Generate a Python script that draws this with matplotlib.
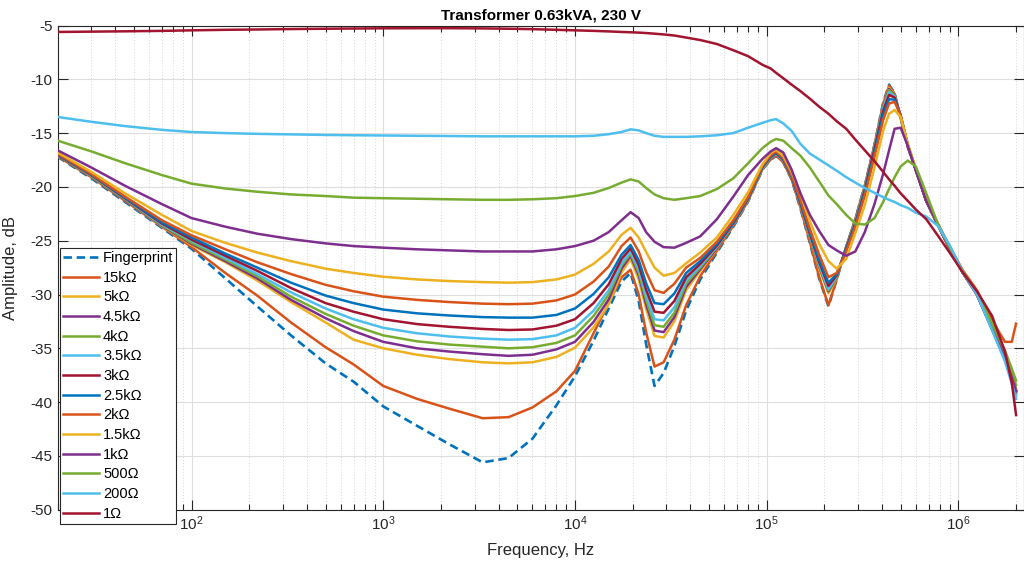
import matplotlib
matplotlib.use("Agg")
import matplotlib.pyplot as plt

plt.rcParams['font.family'] = ['Liberation Sans', 'DejaVu Sans']
plt.rcParams['axes.unicode_minus'] = False
plt.rcParams['mathtext.default'] = 'regular'

# ---------------- data (frequency grid in Hz, amplitudes in dB) ----------------
freq = [20, 30, 45, 70, 100, 150, 220, 330, 500, 700, 1000, 1500, 2200, 3300, 4500, 6000, 8000,
        10000, 12500, 15000, 17500, 19500, 21500, 23500, 26000, 29000, 33000,
        38000, 45000, 55000, 67000, 80000, 95000,
        105000, 112000, 122000, 135000,
        150000, 168000, 188000, 210000,
        232000, 260000, 290000, 325000, 365000, 405000,
        435000, 465000, 500000, 545000,
        600000, 680000, 780000, 900000, 1050000, 1250000, 1500000, 1750000, 1900000, 2000000]

fingerprint = [-17.2, -19.2, -21.4, -23.8, -25.75, -28.5, -31.1, -33.8, -36.4, -38.1, -40.4, -42.2, -43.9, -45.6, -45.2, -43.4, -40.3,
               -37.6, -34.3, -31.3, -28.8, -28.0, -30.6, -34.6, -38.5, -37.3, -34.8,
               -31.5, -28.6, -26.1, -23.7, -21.35, -18.4,
               -17.45, -17.1, -17.7, -19.3,
               -22.0, -25.2, -28.5, -31.1,
               -28.6, -25.6, -23.0, -19.9, -16.1, -12.2,
               -10.5, -11.3, -13.6, -16.3,
               -18.4, -21.3, -23.5, -25.7, -27.9, -30.0, -33.2, -35.9, -37.6, -38.9]
r15k = [-17.15, -19.1, -21.3, -23.7, -25.6, -28.0, -30.1, -32.6, -34.9, -36.5, -38.5, -39.7, -40.6, -41.5, -41.4, -40.5, -39.0,
        -37.1, -33.6, -30.8, -28.4, -27.7, -30.0, -33.5, -36.7, -36.3, -34.2,
        -31.0, -28.3, -25.95, -23.6, -21.3, -18.35,
        -17.45, -17.1, -17.7, -19.3,
        -21.9, -25.1, -28.4, -31.0,
        -28.6, -25.6, -23.0, -19.9, -16.1, -12.3,
        -10.6, -11.35, -13.6, -16.3,
        -18.4, -21.3, -23.4, -25.5, -27.7, -29.6, -32.4, -34.4, -34.4, -32.7]
r5k = [-17.1, -19.0, -21.2, -23.65, -25.4, -27.0, -28.7, -30.7, -32.6, -34.2, -35.0, -35.6, -36.0, -36.3, -36.4, -36.3, -35.8,
       -34.95, -33.05, -30.9, -27.95, -26.7, -28.6, -31.35, -33.85, -34.0, -32.5,
       -29.6, -27.8, -25.75, -23.5, -21.25, -18.3,
       -17.35, -17.0, -17.6, -19.2,
       -21.7, -24.7, -27.6, -29.9,
       -28.5, -25.6, -23.1, -20.0, -16.2, -12.45,
       -10.8, -11.45, -13.55, -16.2,
       -18.4, -21.3, -23.5, -25.7, -27.9, -30.0, -33.2, -35.9, -37.7, -39.0]
r4k5 = [-17.1, -19.0, -21.2, -23.6, -25.3, -26.9, -28.5, -30.5, -32.2, -33.4, -34.4, -35.0, -35.3, -35.55, -35.7, -35.6, -35.1,
        -34.4, -32.55, -30.45, -27.6, -26.4, -28.2, -30.9, -33.35, -33.5, -32.1,
        -29.3, -27.65, -25.7, -23.5, -21.2, -18.25,
        -17.35, -17.0, -17.6, -19.2,
        -21.65, -24.6, -27.4, -29.7,
        -28.4, -25.6, -23.1, -20.05, -16.25, -12.5,
        -10.9, -11.5, -13.5, -16.2,
        -18.4, -21.3, -23.5, -25.7, -27.9, -30.0, -33.2, -35.9, -37.7, -39.2]
r4k = [-17.05, -19.0, -21.15, -23.55, -25.2, -26.75, -28.3, -30.2, -31.8, -32.9, -33.8, -34.35, -34.65, -34.85, -35.0, -34.9, -34.5,
       -33.8, -32.0, -30.0, -27.3, -26.2, -27.95, -30.5, -32.85, -33.0, -31.7,
       -29.0, -27.5, -25.6, -23.45, -21.2, -18.25,
       -17.3, -16.95, -17.55, -19.15,
       -21.6, -24.55, -27.3, -29.6,
       -28.35, -25.6, -23.2, -20.1, -16.3, -12.6,
       -11.0, -11.55, -13.5, -16.2,
       -18.4, -21.2, -23.4, -25.6, -27.8, -29.9, -33.0, -35.6, -37.3, -38.4]
r3k5 = [-17.0, -18.95, -21.1, -23.5, -25.0, -26.6, -28.1, -29.8, -31.3, -32.3, -33.1, -33.6, -33.9, -34.1, -34.2, -34.15, -33.8,
        -33.1, -31.5, -29.6, -27.1, -26.0, -27.65, -30.1, -32.3, -32.4, -31.2,
        -28.7, -27.35, -25.55, -23.4, -21.15, -18.2,
        -17.25, -16.9, -17.5, -19.1,
        -21.55, -24.45, -27.2, -29.5,
        -28.3, -25.65, -23.3, -20.2, -16.4, -12.75,
        -11.2, -11.6, -13.45, -16.2,
        -18.4, -21.3, -23.5, -25.7, -27.9, -30.0, -33.3, -36.1, -38.0, -39.4]
r3k = [-17.0, -18.9, -21.05, -23.4, -24.9, -26.4, -27.8, -29.4, -30.8, -31.6, -32.3, -32.75, -33.0, -33.2, -33.3, -33.25, -32.9,
       -32.3, -30.8, -29.05, -26.7, -25.7, -27.25, -29.55, -31.6, -31.7, -30.6,
       -28.4, -27.15, -25.45, -23.35, -21.1, -18.15,
       -17.2, -16.85, -17.45, -19.05,
       -21.5, -24.35, -27.0, -29.2,
       -28.2, -25.7, -23.4, -20.3, -16.5, -12.95,
       -11.45, -11.7, -13.4, -16.2,
       -18.4, -21.3, -23.5, -25.7, -27.9, -30.0, -33.2, -35.9, -37.7, -39.0]
r2k5 = [-16.95, -18.85, -21.0, -23.3, -24.7, -26.2, -27.5, -28.9, -30.1, -30.8, -31.4, -31.75, -31.95, -32.1, -32.15, -32.15, -31.9,
        -31.3, -29.95, -28.4, -26.3, -25.4, -26.8, -28.95, -30.8, -30.9, -29.9,
        -28.0, -26.9, -25.3, -23.25, -21.05, -18.1,
        -17.15, -16.8, -17.4, -19.0,
        -21.4, -24.2, -26.8, -28.9,
        -28.1, -25.8, -23.5, -20.5, -16.8, -13.3,
        -11.85, -11.9, -13.4, -16.1,
        -18.4, -21.3, -23.5, -25.7, -27.9, -30.0, -33.2, -35.9, -37.6, -38.9]
r2k = [-16.9, -18.8, -20.9, -23.1, -24.5, -25.8, -27.0, -28.1, -29.1, -29.7, -30.2, -30.5, -30.7, -30.85, -30.9, -30.85, -30.55,
       -30.0, -28.8, -27.4, -25.5, -24.7, -26.0, -27.9, -29.6, -29.85, -29.0,
       -27.5, -26.6, -25.1, -23.1, -20.95, -18.0,
       -17.05, -16.7, -17.3, -18.9,
       -21.2, -23.9, -26.3, -28.4,
       -28.0, -26.0, -23.7, -20.8, -17.2, -13.8,
       -12.25, -12.1, -13.35, -16.1,
       -18.4, -21.3, -23.5, -25.7, -27.9, -30.0, -33.2, -35.9, -37.6, -38.9]
r1k5 = [-16.8, -18.6, -20.6, -22.6, -24.1, -25.2, -26.1, -26.9, -27.6, -28.0, -28.35, -28.6, -28.75, -28.85, -28.9, -28.85, -28.6,
        -28.15, -27.15, -26.0, -24.45, -23.8, -24.7, -26.05, -27.5, -28.25, -28.0,
        -27.1, -26.1, -24.7, -22.6, -20.5, -17.9,
        -16.85, -16.55, -17.1, -18.6,
        -20.6, -23.2, -25.3, -26.9,
        -27.6, -26.7, -24.3, -21.7, -18.2, -14.8,
        -13.2, -12.85, -13.5, -16.0,
        -18.3, -21.2, -23.5, -25.7, -27.9, -30.0, -33.2, -35.9, -37.7, -39.0]
r1k = [-16.6, -18.2, -19.9, -21.6, -22.9, -23.7, -24.35, -24.85, -25.25, -25.5, -25.65, -25.8, -25.9, -26.0, -26.0, -26.0, -25.8,
       -25.5, -25.0, -24.2, -23.1, -22.35, -22.9, -24.2, -25.1, -25.6, -25.65,
       -25.2, -24.6, -23.0, -20.9, -18.9, -17.4,
       -16.7, -16.4, -16.8, -18.4,
       -20.6, -22.6, -24.1, -25.4,
       -25.9, -26.4, -26.0, -24.2, -21.6, -18.8,
       -16.6, -14.6, -14.5, -16.2,
       -18.5, -21.3, -23.5, -25.7, -27.9, -30.0, -33.2, -35.9, -37.7, -39.0]
r500 = [-15.7, -16.7, -17.8, -18.9, -19.7, -20.15, -20.45, -20.7, -20.85, -21.0, -21.05, -21.1, -21.15, -21.2, -21.2, -21.15, -21.05,
        -20.85, -20.55, -20.1, -19.6, -19.3, -19.5, -20.1, -20.7, -21.05, -21.2,
        -21.05, -20.85, -20.2, -19.2, -17.8, -16.4,
        -15.8, -15.55, -15.7, -16.4,
        -17.1, -18.2, -19.5, -20.8,
        -21.6, -22.6, -23.4, -23.5, -22.9, -21.4,
        -20.2, -19.1, -18.1, -17.55,
        -18.1, -20.6, -23.4, -25.6, -27.8, -29.8, -32.7, -35.2, -36.9, -38.0]
r200 = [-13.5, -13.95, -14.35, -14.7, -14.9, -15.0, -15.07, -15.12, -15.17, -15.2, -15.22, -15.25, -15.27, -15.3, -15.3, -15.3, -15.3,
        -15.3, -15.25, -15.1, -14.9, -14.65, -14.75, -15.0, -15.25, -15.35, -15.35,
        -15.35, -15.3, -15.2, -15.0, -14.5, -14.05,
        -13.8, -13.7, -14.1, -14.8,
        -16.0, -16.9, -17.45, -18.0,
        -18.5, -19.1, -19.6, -20.1, -20.55, -20.95,
        -21.2, -21.4, -21.7, -21.95,
        -22.4, -22.75, -23.6, -25.4, -27.9, -30.0, -33.3, -36.2, -38.3, -39.7]
r1 = [-5.6, -5.57, -5.54, -5.5, -5.45, -5.4, -5.37, -5.33, -5.3, -5.28, -5.26, -5.25, -5.25, -5.27, -5.3, -5.34, -5.4,
      -5.45, -5.5, -5.55, -5.6, -5.63, -5.66, -5.7, -5.76, -5.83, -5.93,
      -6.12, -6.35, -6.72, -7.3, -7.85, -8.65,
      -9.0, -9.4, -9.9, -10.5,
      -11.1, -11.8, -12.55, -13.2,
      -13.9, -14.6, -15.6, -16.6, -17.6, -18.6,
      -19.3, -19.9, -20.6, -21.3,
      -22.1, -23.0, -24.5, -26.1, -27.9, -29.7, -32.0, -35.3, -38.2, -41.2]

labels = ['Fingerprint', '15k\u03a9', '5k\u03a9', '4.5k\u03a9', '4k\u03a9', '3.5k\u03a9', '3k\u03a9',
          '2.5k\u03a9', '2k\u03a9', '1.5k\u03a9', '1k\u03a9', '500\u03a9', '200\u03a9', '1\u03a9']
series = [fingerprint, r15k, r5k, r4k5, r4k, r3k5, r3k, r2k5, r2k, r1k5, r1k, r500, r200, r1]
colors = ['#0072BD', '#D95319', '#EDB120', '#7E2F8E', '#77AC30', '#4DBEEE', '#A2142F',
          '#0072BD', '#D95319', '#EDB120', '#7E2F8E', '#77AC30', '#4DBEEE', '#A2142F']

# ---------------- figure ----------------
W, H = 1024, 567
fig = plt.figure(figsize=(W / 100, H / 100), dpi=100)
left_px, right_px, top_px, bot_px = 57.6, 1024.0, 25.5, 509.7
ax = fig.add_axes([left_px / W, 1 - bot_px / H, (right_px - left_px) / W, (bot_px - top_px) / H])

for i, (lab, ys, c) in enumerate(zip(labels, series, colors)):
    if i == 0:
        ax.plot(freq, ys, color=c, lw=1.9, ls=(0, (3.2, 1.8)), label=lab, zorder=3,
                solid_joinstyle='round', dash_joinstyle='round')
    else:
        ax.plot(freq, ys, color=c, lw=1.8, label=lab, zorder=3 + i * 0.01,
                solid_joinstyle='round')

ax.set_xscale('log')
ax.set_xlim(20, 2.2e6)
ax.set_ylim(-50, -5)
ax.set_yticks(list(range(-50, -4, 5)))

ax.grid(True, which='major', color='#dedede', lw=0.8, ls='-')
ax.grid(True, which='minor', axis='x', color='#c8c8c8', lw=0.6, ls=(0, (1, 2.5)))
ax.set_axisbelow(True)

for sp in ax.spines.values():
    sp.set_color('#262626')
    sp.set_linewidth(0.8)
ax.tick_params(which='both', direction='in', top=True, right=True, colors='#262626',
               labelsize=11, width=0.8)
ax.tick_params(which='major', length=7)
ax.tick_params(which='minor', length=4.5)
ax.tick_params(axis='x', which='major', pad=3.5)
ax.tick_params(axis='y', which='major', pad=3.5)

ax.set_xlabel('Frequency, Hz', fontsize=12, color='#262626')
ax.set_ylabel('Amplitude, dB', fontsize=12, color='#262626')
ax.xaxis.set_label_coords(0.5, -0.068)
ax.yaxis.set_label_coords(-0.041, 0.5)
ax.set_title('Transformer 0.63kVA, 230 V', fontsize=11, fontweight='bold', pad=4)

leg = ax.legend(loc='upper left', bbox_to_anchor=(60 / W, 1 - 248 / H),
                bbox_transform=fig.transFigure, borderaxespad=0, fontsize=10.5,
                handlelength=2.5, handletextpad=0.25, labelspacing=0.39, borderpad=0.2,
                fancybox=False, framealpha=1, edgecolor='#262626')
leg.get_frame().set_linewidth(0.8)
leg.set_zorder(10)

fig.savefig('out.png', dpi=100, facecolor='white')
